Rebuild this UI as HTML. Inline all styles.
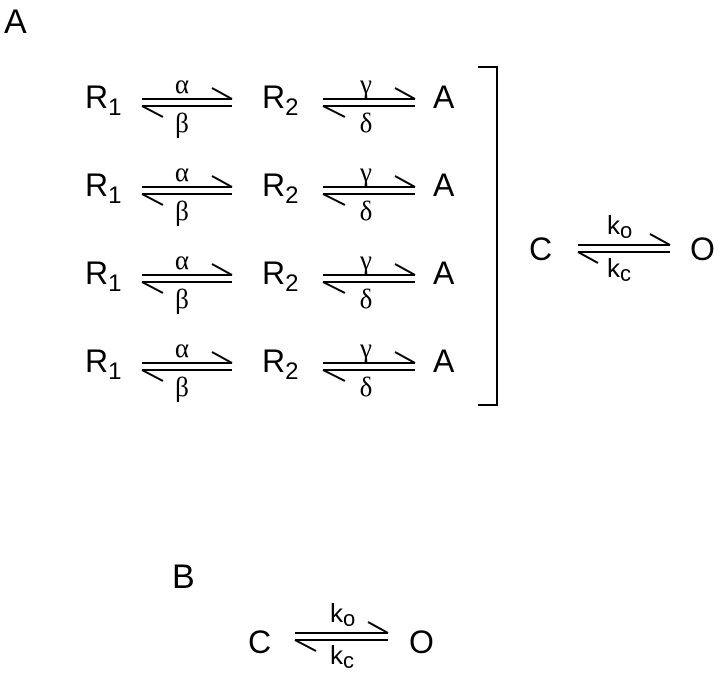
<!DOCTYPE html>
<html><head><meta charset="utf-8"><style>
html,body{margin:0;padding:0;background:#fff;}
svg{display:block}
.s{font-family:"Liberation Sans",sans-serif;fill:#000}
.g{font-family:"Liberation Serif",serif;fill:#000;font-size:27px;text-anchor:middle}
line,polyline{stroke:#000;stroke-width:2;fill:none}
</style></head><body>
<svg width="720" height="676" viewBox="0 0 720 676" xmlns="http://www.w3.org/2000/svg">
<text class="s" x="4" y="33" font-size="34">A</text>
<defs>
<g id="row">
  <text class="s" x="85" y="108" font-size="32">R<tspan font-size="24" dy="7">1</tspan></text>
  <line x1="142" y1="99" x2="232" y2="99"/>
  <line x1="142" y1="106" x2="232" y2="106"/>
  <line x1="212" y1="88" x2="232" y2="99"/>
  <line x1="142" y1="106" x2="163" y2="117"/>
  <text class="g" x="182" y="93">α</text>
  <text class="g" x="182" y="132">β</text>
  <text class="s" x="262" y="108" font-size="32">R<tspan font-size="24" dy="7">2</tspan></text>
  <line x1="323" y1="99" x2="415" y2="99"/>
  <line x1="323" y1="106" x2="415" y2="106"/>
  <line x1="395" y1="88" x2="415" y2="99"/>
  <line x1="323" y1="106" x2="345" y2="117"/>
  <text class="g" x="366" y="93">γ</text>
  <text class="g" x="366" y="132">δ</text>
  <text class="s" x="433" y="108" font-size="32">A</text>
</g>
</defs>
<use href="#row"/>
<use href="#row" y="88"/>
<use href="#row" y="176"/>
<use href="#row" y="264"/>
<polyline points="478,67 497,67 497,405 478,405"/>
<text class="s" x="529" y="260" font-size="32">C</text>
<line x1="578" y1="245" x2="670" y2="245"/>
<line x1="578" y1="252" x2="670" y2="252"/>
<line x1="650" y1="234" x2="670" y2="245"/>
<line x1="578" y1="252" x2="598" y2="263"/>
<text class="s" x="607" y="234" font-size="26">k<tspan font-size="22" dy="4">o</tspan></text>
<text class="s" x="607" y="277" font-size="26">k<tspan font-size="22" dy="4">c</tspan></text>
<text class="s" x="690" y="260" font-size="32">O</text>

<text class="s" x="172" y="588" font-size="34">B</text>
<text class="s" x="248" y="653" font-size="32">C</text>
<line x1="295" y1="633" x2="388" y2="633"/>
<line x1="295" y1="640" x2="388" y2="640"/>
<line x1="368" y1="622" x2="388" y2="633"/>
<line x1="295" y1="640" x2="316" y2="651"/>
<text class="s" x="330" y="622" font-size="26">k<tspan font-size="22" dy="4">o</tspan></text>
<text class="s" x="330" y="664" font-size="26">k<tspan font-size="22" dy="4">c</tspan></text>
<text class="s" x="409" y="653" font-size="32">O</text>
</svg>
</body></html>
